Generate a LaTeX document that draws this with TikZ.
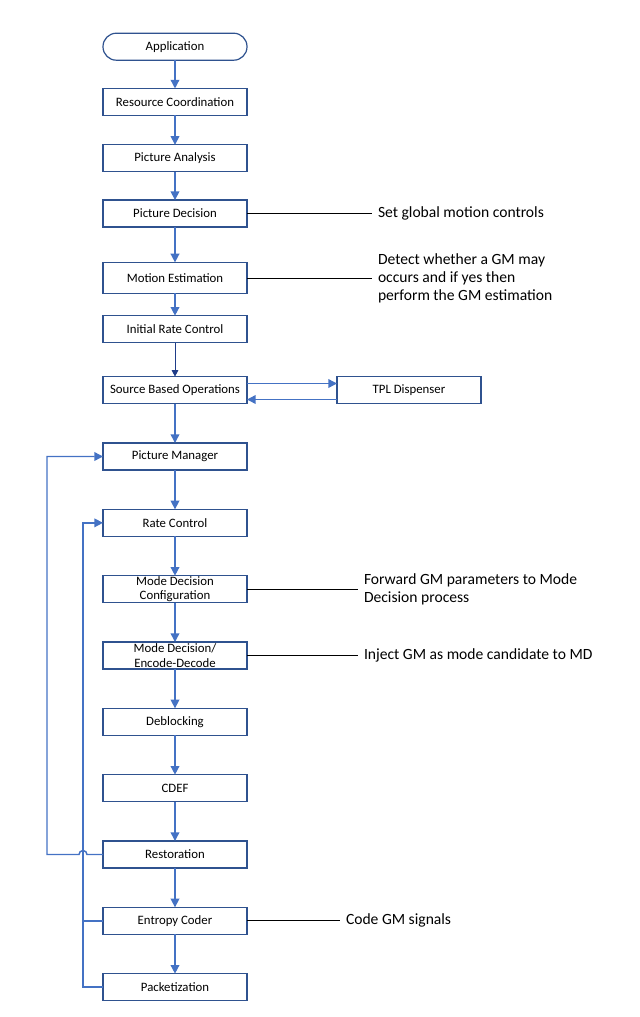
\documentclass[tikz,border=0pt]{standalone}
\usepackage{fontspec}
\setmainfont{Carlito}
\usepackage{xcolor}
\usepackage{tikz}
\usetikzlibrary{positioning}
\usetikzlibrary{arrows.meta}
\definecolor{boxblue}{HTML}{2F528F}
\definecolor{flowblue}{HTML}{4472C4}
\definecolor{navyblue}{HTML}{1F3C88}
\tikzset{
  stage/.style={draw=boxblue, line width=0.9pt, fill=white, minimum width=108pt,
                minimum height=20.25pt, inner sep=0pt, outer sep=0pt, align=center,
                font=\fontsize{9.6}{10.9}\selectfont},
  note/.style={inner xsep=4.5pt, inner ysep=0pt, outer sep=0pt, align=left,
               font=\fontsize{11.7}{13.5}\selectfont},
  flow/.style={-{Triangle[length=6.5pt,width=6.5pt]}, draw=flowblue, line width=1.1pt},
  navyflow/.style={-{Triangle[length=5pt,width=5pt]}, draw=navyblue, line width=0.75pt},
  loop/.style={draw=flowblue, line width=1.1pt},
  remark/.style={draw=black, line width=0.6pt}
}

\begin{document}
\begin{tikzpicture}[x=0.75pt,y=-0.75pt,node distance=29.5pt]
\useasboundingbox (0,0) rectangle (639,1017);
\node[stage,rounded corners=10pt] (app) at (175,46.7) {Application};
\node[stage,below=21.2pt of app] (rescoord) {Resource Coordination};
\node[stage,below=22pt of rescoord] (pa) {Picture Analysis};
\node[stage,below=21.2pt of pa] (pdec) {Picture Decision};
\node[stage,below=26.5pt of pdec,minimum height=23.25pt] (me) {Motion Estimation};
\node[stage,below=16.7pt of me] (irc) {Initial Rate Control};
\node[stage,below=25.5pt of irc] (sbo) {Source Based Operations};
\node[stage,right=67.5pt of sbo] (tpl) {TPL Dispenser};
\node[stage,below=of sbo] (pm) {Picture Manager};
\node[stage,below=of pm] (rc) {Rate Control};
\node[stage,below=of rc] (mdc) {Mode Decision\\Configuration};
\node[stage,below=of mdc] (mded) {Mode Decision/\\Encode-Decode};
\node[stage,below=of mded] (dlf) {Deblocking};
\node[stage,below=of dlf] (cdef) {CDEF};
\node[stage,below=of cdef] (rest) {Restoration};
\node[stage,below=of rest] (ec) {Entropy Coder};
\node[stage,below=of ec] (pack) {Packetization};

% notes on the right
\node[note,right=93.75pt of pdec] (n1) {Set global motion controls};
\node[note,right=93.75pt of me] (n2) {Detect whether a GM may\\occurs and if yes then\\perform the GM estimation};
\node[note,right=83.25pt of mdc] (n3) {Forward GM parameters to Mode\\Decision process};
\node[note,right=83.25pt of mded] (n4) {Inject GM as mode candidate to MD};
\node[note,right=69.75pt of ec] (n5) {Code GM signals};

% main chain
\foreach \a/\b in {app/rescoord,rescoord/pa,pa/pdec,pdec/me,me/irc,sbo/pm,pm/rc,
                   rc/mdc,mdc/mded,mded/dlf,dlf/cdef,cdef/rest,rest/ec,ec/pack}
  \draw[flow] (\a) -- (\b);
\draw[navyflow] (irc) -- (sbo);
\draw[flow] ([yshift=5pt]sbo.east) -- ([yshift=5pt]tpl.west);
\draw[flow] ([yshift=-7pt]tpl.west) -- ([yshift=-7pt]sbo.east);

% feedback loops
\draw[flow] (rest.west) -- ++(-16,0) arc[start angle=0,end angle=-180,radius=4]
            -- ++(-32,0) |- (pm.west);
\draw[flow] (pack.west) -- ++(-20,0) |- (rc.west);
\draw[loop] (ec.west) -- ++(-20,0);

% remarks
\foreach \a/\b in {pdec/n1,me/n2,mdc/n3,mded/n4,ec/n5}
  \draw[remark] (\a.east) -- (\b.west);
\end{tikzpicture}
\end{document}
